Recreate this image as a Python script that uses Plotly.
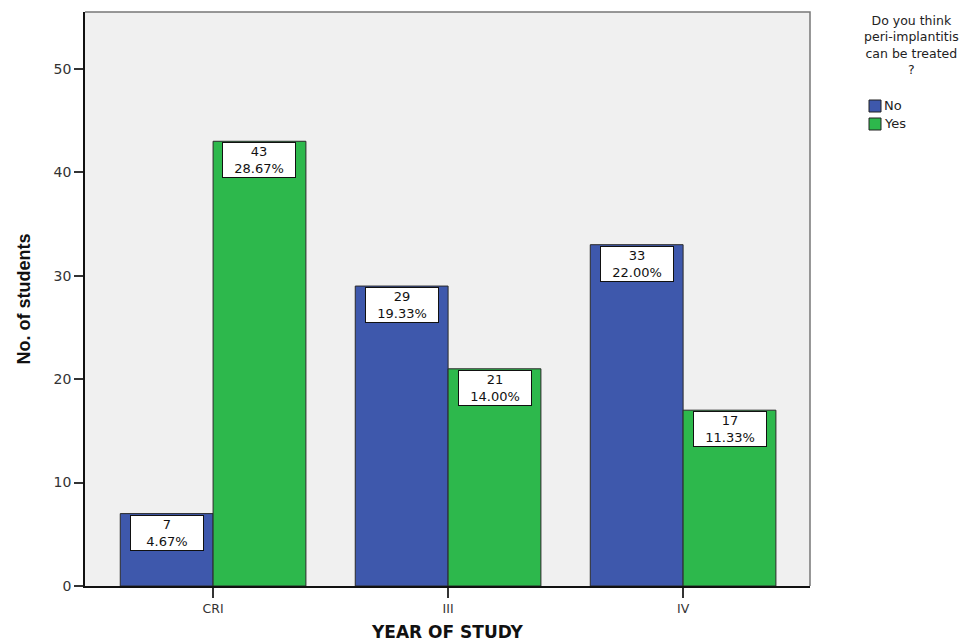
import plotly.graph_objects as go

# Survey counts by year of study
years = ["CRI", "III", "IV"]
no_counts = [7, 29, 33]
yes_counts = [43, 21, 17]
no_pct = ["4.67%", "19.33%", "22.00%"]
yes_pct = ["28.67%", "14.00%", "11.33%"]
y_ticks = [0, 10, 20, 30, 40, 50]
legend_title = "Do you think<br>peri-implantitis<br>can be treated<br>?"
x_title = "YEAR OF STUDY"
y_title = "No. of students"

BLUE = "#3E58AC"
GREEN = "#2DB84C"
OUTLINE = "#2a2a2a"
FONT = "Liberation Sans, Arial, sans-serif"
LABEL_FONT = "DejaVu Sans, sans-serif"

W, H = 971, 644
ML, MR, MT, MB = 85, 161, 12, 58
X_RANGE = [-0.545, 2.54]
Y_RANGE = [0, 55.5]
BARGAP = 0.21

plot_w = W - ML - MR
plot_h = H - MT - MB
px_per_cat = plot_w / (X_RANGE[1] - X_RANGE[0])
half_bar = (1 - BARGAP) * px_per_cat / 4  # centre offset of each bar in a group


def px_x(px):
    return (px - ML) / plot_w


def px_y(py):
    return (H - MB - py) / plot_h


fig = go.Figure()
fig.add_trace(go.Bar(x=years, y=no_counts, name="No",
                     marker=dict(color=BLUE, line=dict(color=OUTLINE, width=1))))
fig.add_trace(go.Bar(x=years, y=yes_counts, name="Yes",
                     marker=dict(color=GREEN, line=dict(color=OUTLINE, width=1))))

annotations = []
for counts, pcts, shift in ((no_counts, no_pct, -half_bar), (yes_counts, yes_pct, half_bar)):
    for yr, c, p in zip(years, counts, pcts):
        annotations.append(dict(
            x=yr, y=c, xref="x", yref="y", xshift=shift, yanchor="top", yshift=-1,
            text=f"{c}<br>{p}", showarrow=False, align="center",
            font=dict(family=LABEL_FONT, size=13, color="#111"),
            bgcolor="white", bordercolor="#111", borderwidth=1, borderpad=1, width=70,
        ))

# X axis title placed below the tick labels
annotations.append(dict(
    x=0.5, y=px_y(632), xref="paper", yref="paper", text=f"<b>{x_title}</b>",
    showarrow=False, xanchor="center", yanchor="middle",
    font=dict(family=LABEL_FONT, size=17, color="#111"),
))

# Legend block drawn beside the plot: title, swatches and names
annotations.append(dict(
    x=px_x(911), y=px_y(11), xref="paper", yref="paper", text=legend_title,
    showarrow=False, align="center", xanchor="center", yanchor="top",
    font=dict(family=LABEL_FONT, size=12.5, color="#222"),
))

shapes = []
for trace, yc in zip(fig.data, (106, 124)):
    shapes.append(dict(type="rect", xref="paper", yref="paper",
                       x0=px_x(869), x1=px_x(881), y0=px_y(yc - 6), y1=px_y(yc + 6),
                       fillcolor=trace.marker.color, line=dict(color="#222", width=1)))
    annotations.append(dict(
        x=px_x(882), y=px_y(yc), xref="paper", yref="paper",
        text=trace.name, showarrow=False, xanchor="left", yanchor="middle",
        font=dict(family=LABEL_FONT, size=13, color="#222"),
    ))

# Top/right frame of the plot area
shapes.append(dict(type="path", xref="paper", yref="paper", path="M 0 1 L 1 1 L 1 0",
                   line=dict(color="#777", width=1.5)))

fig.update_layout(
    width=W, height=H, margin=dict(l=ML, r=MR, t=MT, b=MB),
    paper_bgcolor="white", plot_bgcolor="#F0F0F0",
    barmode="group", bargap=BARGAP, bargroupgap=0,
    showlegend=False,
    font=dict(family=FONT, color="#222"),
    annotations=annotations, shapes=shapes,
    xaxis=dict(
        range=X_RANGE, showline=True, linecolor="#111", linewidth=1.5, automargin=False,
        ticks="outside", ticklen=10, tickcolor="#333", tickwidth=1.5,
        tickfont=dict(family=LABEL_FONT, size=12.5, color="#333"),
        showgrid=False, zeroline=False,
    ),
    yaxis=dict(
        range=Y_RANGE, tickvals=y_ticks, showline=True, linecolor="#111", linewidth=1.5,
        automargin=False,
        ticks="outside", ticklen=9, tickcolor="#333", tickwidth=1.5,
        tickfont=dict(family=LABEL_FONT, size=14, color="#333"),
        title=dict(text=f"<b>{y_title}</b>",
                   font=dict(family="Liberation Sans Narrow, Arial Narrow, Liberation Sans, sans-serif",
                             size=18, color="#111"), standoff=18),
        showgrid=False, zeroline=False,
    ),
)

fig.write_html("out.html")
